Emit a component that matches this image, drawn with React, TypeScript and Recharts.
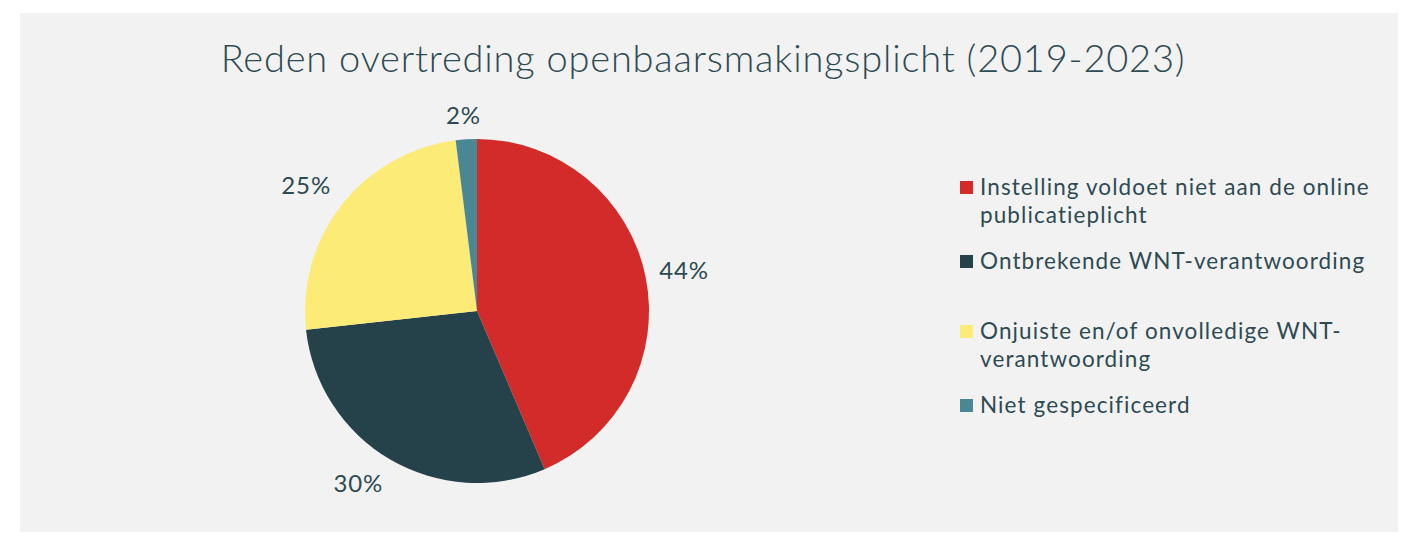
import React from "react";
import { PieChart, Pie, Cell, Legend } from "recharts";

const categories = [
  "Instelling voldoet niet aan de online publicatieplicht",
  "Ontbrekende WNT-verantwoording",
  "Onjuiste en/of onvolledige WNT-verantwoording",
  "Niet gespecificeerd",
];
const values = [44, 30, 25, 2];
const colors = ["#D22B2A", "#25414A", "#FDEB78", "#4A8794"];

const TEXT = "#2E4A52";
const FONT = "Lato, 'Open Sans', sans-serif";

const data = categories.map((name, i) => ({ name, value: values[i], color: colors[i] }));

const RAD = Math.PI / 180;
const clamp = (v: number) => Math.max(-1, Math.min(1, v));

// label box sits just outside the rim, pushed away by its own half size
function renderLabel(props: any) {
  const { cx, cy, midAngle, value, outerRadius } = props;
  const cos = Math.cos(-midAngle * RAD);
  const sin = Math.sin(-midAngle * RAD);
  const txt = `${value}%`;
  const halfW = txt.length * 8.3;
  const halfH = 11;
  const r = outerRadius + 14;
  const x = cx + r * cos + halfW * clamp(cos * 2);
  const y = cy + r * sin + halfH * clamp(sin * 2);
  return (
    <text
      x={x}
      y={y}
      fill={TEXT}
      fontSize={24}
      fontFamily={FONT}
      letterSpacing={0.9}
      textAnchor="middle"
      dominantBaseline="central"
    >
      {txt}
    </text>
  );
}

function LegendContent() {
  return (
    <div
      style={{
        fontFamily: FONT,
        color: TEXT,
        fontSize: 22.5,
        lineHeight: "28px",
        letterSpacing: 1.1,
      }}
    >
      {data.map((d, i) => (
        <div
          key={d.name}
          style={{ display: "flex", alignItems: "flex-start", marginBottom: i === 1 ? 42 : 18 }}
        >
          <span
            style={{
              display: "inline-block",
              width: 13,
              height: 13,
              background: d.color,
              marginTop: 8,
              marginRight: 7,
              flex: "none",
            }}
          />
          <span style={{ width: 400 }}>{d.name}</span>
        </div>
      ))}
    </div>
  );
}

export default function App() {
  return (
    <div style={{ position: "fixed", left: 0, top: 0, width: 1402, height: 534, background: "#fff" }}>
      <div
        style={{
          position: "absolute",
          left: 20,
          top: 13,
          width: 1378,
          height: 519,
          background: "#F2F2F2",
        }}
      >
        <div
          style={{
            position: "absolute",
            left: 0,
            top: 21,
            width: 1366,
            textAlign: "center",
            fontFamily: FONT,
            fontSize: 38,
            fontWeight: 300,
            letterSpacing: 0.8,
            color: TEXT,
            lineHeight: "46px",
          }}
        >
          Reden overtreding openbaarsmakingsplicht (2019-2023)
        </div>
        <PieChart width={1378} height={519} margin={{ top: 0, right: 0, bottom: 0, left: 0 }}>
          <Pie
            data={data}
            dataKey="value"
            nameKey="name"
            cx={457}
            cy={298}
            outerRadius={172}
            startAngle={90}
            endAngle={-270}
            stroke="none"
            label={renderLabel}
            labelLine={false}
            isAnimationActive={false}
          >
            {data.map((d) => (
              <Cell key={d.name} fill={d.color} />
            ))}
          </Pie>
          <Legend
            content={<LegendContent />}
            wrapperStyle={{ left: 940, top: 160, width: 440 }}
          />
        </PieChart>
      </div>
    </div>
  );
}
